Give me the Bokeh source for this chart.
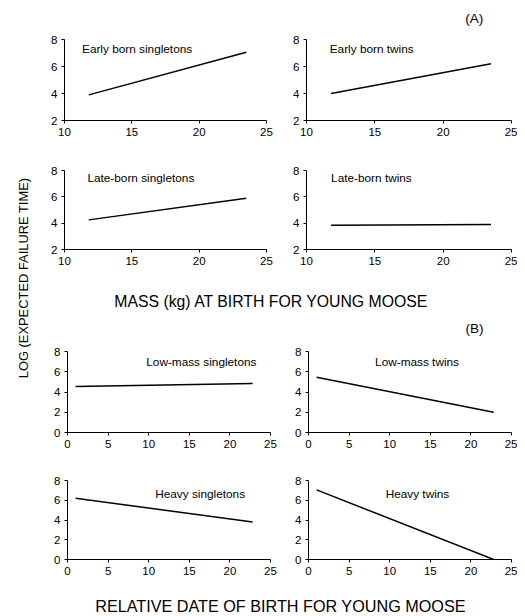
import math
from bokeh.plotting import figure
from bokeh.models import Range1d, FixedTicker, Label
from bokeh.layouts import row, column
from bokeh.embed import file_html
from bokeh.resources import INLINE

# ---------------- data ----------------
mass_x = [11.8, 23.5]
early_singletons = [3.9, 7.05]
early_twins = [4.0, 6.2]
late_singletons = [4.25, 5.9]
late_twins = [3.85, 3.9]

date_x = [1.0, 22.8]
lowmass_singletons = [4.55, 4.85]
lowmass_twins = [5.45, 2.0]
heavy_singletons = [6.2, 3.8]
heavy_twins = [7.05, 0.0]

mass_ticks = [10, 15, 20, 25]
mass_yticks = [2, 4, 6, 8]
date_ticks = [0, 5, 10, 15, 20, 25]
date_yticks = [0, 2, 4, 6, 8]

FONT = "Liberation Sans"
TICK_FS = "11.5px"
LAB_FS = "11.8px"


def panel(x, y, xr, yr, xt, yt, label, lx, ly, w, h, bl, br, bt, bb):
    p = figure(width=w, height=h, x_range=Range1d(*xr), y_range=Range1d(*yr),
               output_backend="svg", toolbar_location=None,
               min_border_left=bl, min_border_right=br,
               min_border_top=bt, min_border_bottom=bb,
               outline_line_color=None)
    p.grid.visible = False
    p.xaxis.ticker = FixedTicker(ticks=xt)
    p.yaxis.ticker = FixedTicker(ticks=yt)
    for ax in (p.xaxis[0], p.yaxis[0]):
        ax.axis_line_color = "black"
        ax.axis_line_width = 1
        ax.major_tick_line_color = "black"
        ax.major_tick_in = 0
        ax.major_tick_out = 3
        ax.minor_tick_line_color = None
        ax.major_label_text_font = FONT
        ax.major_label_text_font_size = TICK_FS
        ax.major_label_text_color = "black"
        ax.major_label_standoff = 4
    p.line(x, y, line_color="black", line_width=1.5)
    p.add_layout(Label(x=lx, y=ly, text=label, text_font=FONT,
                       text_font_size=LAB_FS, text_align="left",
                       text_baseline="middle", text_color="black"))
    return p


def textfig(w, h, items):
    p = figure(width=w, height=h, x_range=Range1d(0, w), y_range=Range1d(0, h),
               output_backend="svg", toolbar_location=None,
               min_border=0, outline_line_color=None,
               x_axis_location=None, y_axis_location=None)
    p.grid.visible = False
    for (tx, ty, txt, fs, ang, base) in items:
        p.add_layout(Label(x=tx, y=ty, text=txt, text_font=FONT,
                           text_font_size=fs, text_align="center",
                           text_baseline=base, angle=ang, text_color="black"))
    return p


p1 = panel(mass_x, early_singletons, (10, 25), (2, 8), mass_ticks, mass_yticks,
           "Early born singletons", 11.3, 7.3, 242, 120, 28, 12, 9, 30)
p2 = panel(mass_x, early_twins, (10, 25), (2, 8), mass_ticks, mass_yticks,
           "Early born twins", 11.7, 7.3, 239, 120, 28, 6, 9, 30)
p3 = panel(mass_x, late_singletons, (10, 25), (2, 8), mass_ticks, mass_yticks,
           "Late-born singletons", 11.7, 7.4, 242, 123, 28, 12, 20, 24)
p4 = panel(mass_x, late_twins, (10, 25), (2, 8), mass_ticks, mass_yticks,
           "Late-born twins", 11.8, 7.4, 239, 123, 28, 6, 20, 24)

p5 = panel(date_x, lowmass_singletons, (0, 25), (0, 8), date_ticks, date_yticks,
           "Low-mass singletons", 9.7, 7.0, 242, 120, 31, 8, 11, 28)
p6 = panel(date_x, lowmass_twins, (0, 25), (0, 8), date_ticks, date_yticks,
           "Low-mass twins", 8.2, 7.0, 239, 120, 30, 6, 11, 28)
p7 = panel(date_x, heavy_singletons, (0, 25), (0, 8), date_ticks, date_yticks,
           "Heavy singletons", 10.8, 6.6, 242, 120, 31, 8, 20, 21)
p8 = panel(date_x, heavy_twins, (0, 25), (0, 8), date_ticks, date_yticks,
           "Heavy twins", 9.5, 6.6, 239, 120, 30, 6, 20, 21)

RW = 481
headA = textfig(RW, 30, [(437.7, 11.7, "(A)", "13.5px", 0, "middle")])
xlabA = textfig(RW, 42, [(235, 14, "MASS (kg) AT BIRTH FOR YOUNG MOOSE", "15.8px", 0, "alphabetic")])
headB = textfig(RW, 25, [(438, 12, "(B)", "13.5px", 0, "middle")])
xlabB = textfig(RW, 36, [(244, 11, "RELATIVE DATE OF BIRTH FOR YOUNG MOOSE", "16.2px", 0, "alphabetic")])
ylab = textfig(36, 616, [(22.5, 338.5, "LOG (EXPECTED FAILURE TIME)", "12.9px", math.pi / 2, "middle")])

right = column(headA, row(p1, p2), row(p3, p4), xlabA, headB,
               row(p5, p6), row(p7, p8), xlabB)
layout = row(ylab, right)

open("out.html", "w").write(file_html(layout, INLINE))
